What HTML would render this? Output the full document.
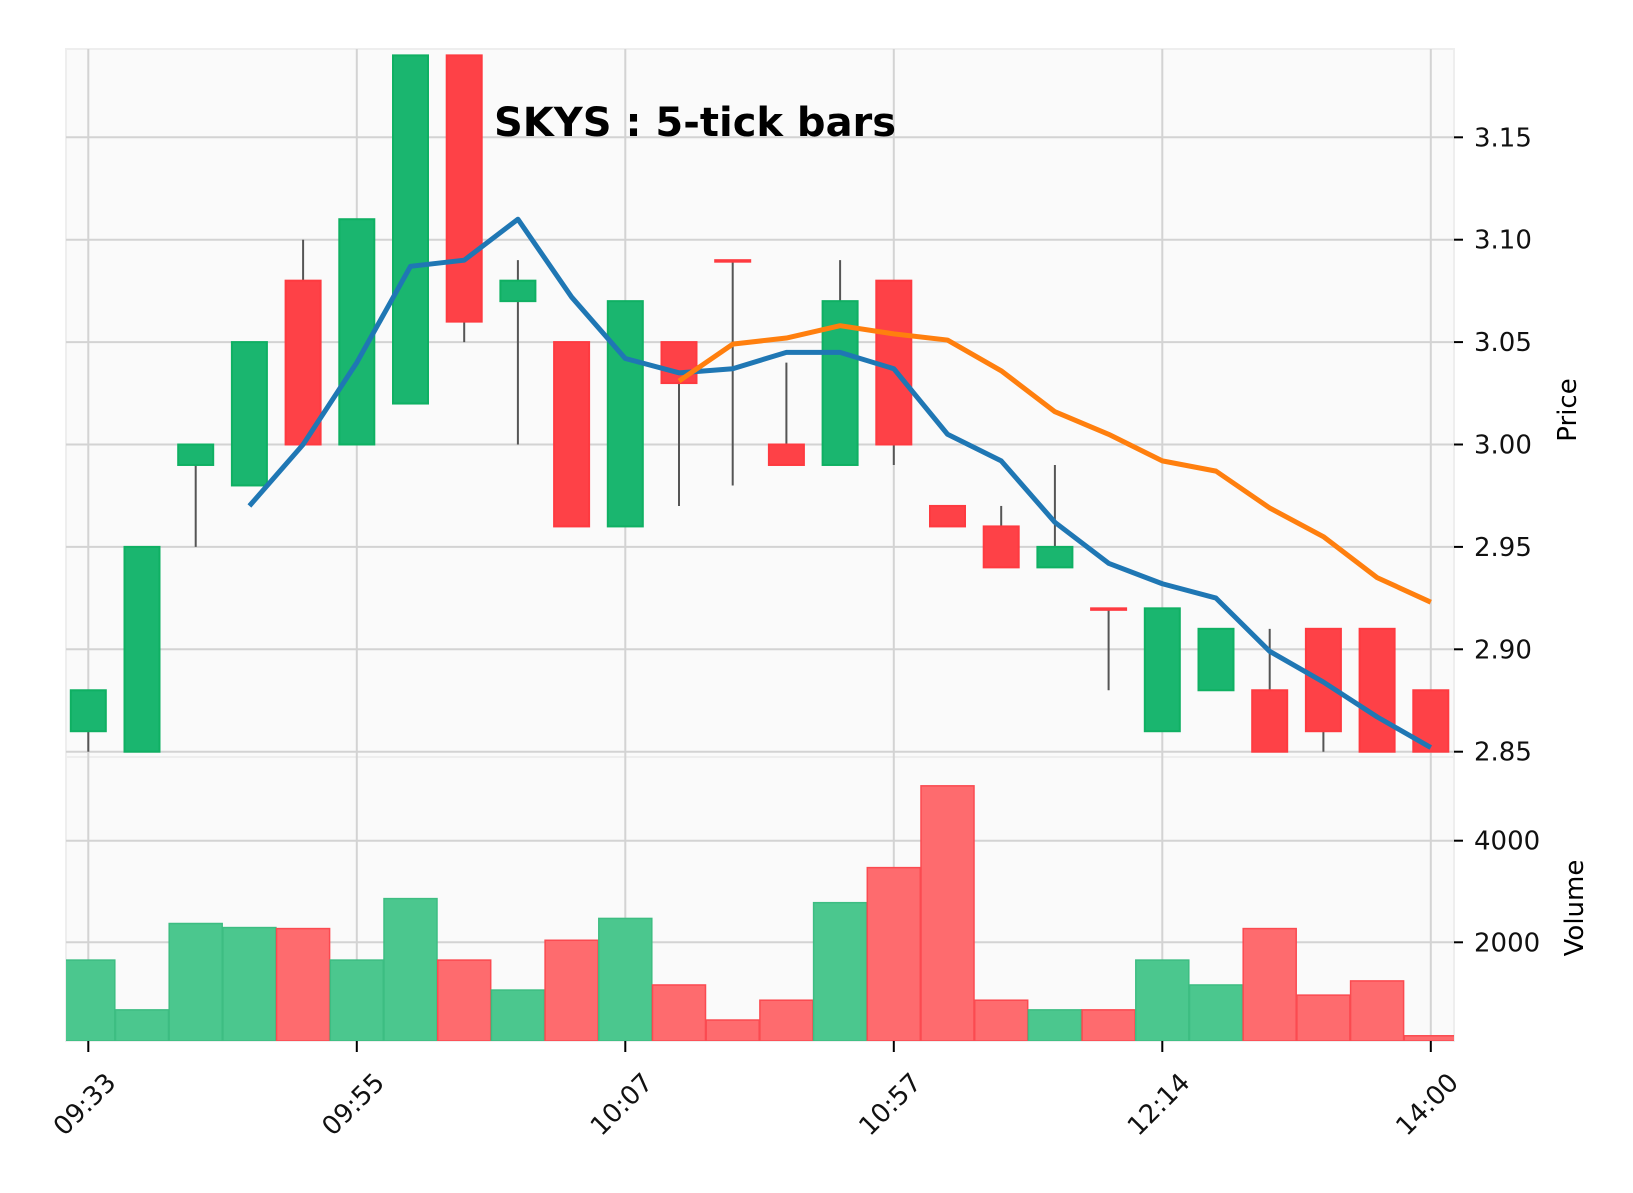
<!DOCTYPE html>
<html><head><meta charset="utf-8"><style>
html,body{margin:0;padding:0;background:#fff;}
svg text{font-family:"DejaVu Sans","Liberation Sans",sans-serif;}
</style></head><body>
<svg id="chart" width="1633" height="1188" xmlns="http://www.w3.org/2000/svg">
<defs>
<clipPath id="cp"><rect x="66" y="49" width="1388" height="708"/></clipPath>
<clipPath id="cv"><rect x="66" y="757" width="1388" height="284"/></clipPath>
</defs>
<rect x="66" y="49" width="1388" height="708" fill="#fafafa" stroke="#eeeeee" stroke-width="2"/>
<rect x="66" y="757" width="1388" height="284" fill="#fafafa" stroke="#eeeeee" stroke-width="2"/>
<g id="grid"></g>
<g id="vol" clip-path="url(#cv)"></g>
<g id="candles" clip-path="url(#cp)"></g>
<g id="mas" clip-path="url(#cp)"></g>
<g id="axes"></g>
<text x="494" y="136" font-size="40" font-weight="bold" fill="#000">SKYS : 5-tick bars</text>
<text transform="translate(1576,410) rotate(-90)" text-anchor="middle" font-size="26">Price</text>
<text transform="translate(1583,908) rotate(-90)" text-anchor="middle" font-size="26">Volume</text>
</svg>
<script>
const opens  =[2.86,2.85,2.99,2.98,3.08,3.00,3.02,3.19,3.07,3.05,2.96,3.05,3.09,3.00,2.99,3.08,2.97,2.96,2.94,2.92,2.86,2.88,2.88,2.91,2.91,2.88];
const highs  =[2.88,2.95,3.00,3.05,3.10,3.11,3.19,3.19,3.09,3.05,3.07,3.05,3.09,3.04,3.09,3.08,2.97,2.97,2.99,2.92,2.92,2.91,2.91,2.91,2.91,2.88];
const lows   =[2.85,2.85,2.95,2.98,3.00,3.00,3.02,3.05,3.00,2.96,2.96,2.97,2.98,2.99,2.99,2.99,2.96,2.94,2.94,2.88,2.86,2.88,2.85,2.85,2.85,2.85];
const closes =[2.88,2.95,3.00,3.05,3.00,3.11,3.19,3.06,3.08,2.96,3.07,3.03,3.09,2.99,3.07,3.00,2.96,2.94,2.95,2.92,2.92,2.91,2.85,2.86,2.85,2.85];
const upFlags=[1,1,1,1,0,1,1,0,1,0,1,0,0,0,1,0,0,0,1,0,1,1,0,0,0,0];
const volumes=[1650,670,2370,2290,2270,1650,2860,1650,1060,2040,2470,1160,470,860,2780,3470,5080,860,670,670,1650,1160,2270,960,1240,160];
const ma1=[null,null,null,2.97,3.00,3.04,3.087,3.09,3.11,3.072,3.042,3.035,3.037,3.045,3.045,3.037,3.005,2.992,2.962,2.942,2.932,2.925,2.899,2.884,2.867,2.852];
const ma2=[null,null,null,null,null,null,null,null,null,null,null,3.031,3.049,3.052,3.058,3.054,3.051,3.036,3.016,3.005,2.992,2.987,2.969,2.955,2.935,2.923];
const priceTicks=[2.85,2.90,2.95,3.00,3.05,3.10,3.15];
const volTicks=[2000,4000];
const xTickIdx=[0,5,10,15,20,25];
const xTickLabels=["09:33","09:55","10:07","10:57","12:14","14:00"];

const NS="http://www.w3.org/2000/svg";
const X=i=>88.3+i*53.7;
const Y=p=>137.3+(3.15-p)*2048;
const V=v=>1043.9-v*0.0508;
function mk(parent,tag,attrs){const e=document.createElementNS(NS,tag);for(const k in attrs)e.setAttribute(k,attrs[k]);document.getElementById(parent).appendChild(e);return e;}

xTickIdx.forEach((i,k)=>{
  const g1=mk('grid','line',{x1:X(i),x2:X(i),y1:49,y2:1041,stroke:'#d3d3d3','stroke-width':2});
  
  
  const t=mk('axes','line',{x1:X(i),x2:X(i),y1:1041,y2:1052,stroke:'#000','stroke-width':2});
  
  
  const lb=mk('axes','text',{transform:`translate(${X(i)+29},${1084}) rotate(-45)`,'text-anchor':'end','font-size':26,fill:'#111'});
  lb.textContent=xTickLabels[k];
  
  
});
priceTicks.forEach(p=>{
  const g=mk('grid','line',{x1:66,x2:1454,y1:Y(p),y2:Y(p),stroke:'#d3d3d3','stroke-width':2});
  
  
  const t=mk('axes','line',{x1:1454,x2:1463,y1:Y(p),y2:Y(p),stroke:'#000','stroke-width':2});
  
  
  const lb=mk('axes','text',{x:1474,y:Y(p)+9,'font-size':26,fill:'#111'});
  lb.textContent=p.toFixed(2);
  
  
});
volTicks.forEach(v=>{
  const g=mk('grid','line',{x1:66,x2:1454,y1:V(v),y2:V(v),stroke:'#d3d3d3','stroke-width':2});
  
  
  const t=mk('axes','line',{x1:1454,x2:1463,y1:V(v),y2:V(v),stroke:'#000','stroke-width':2});
  
  
  const lb=mk('axes','text',{x:1474,y:V(v)+9,'font-size':26,fill:'#111'});
  lb.textContent=String(v);
  
  
});
volumes.forEach((v,i)=>{
  const up=upFlags[i];
  const r=mk('vol','rect',{x:X(i)-26.5,y:V(v),width:53,height:Math.max(0,1041-V(v)),fill:up?'#4bc78e':'#fe6b6e',stroke:up?'#3dbd82':'#fb4a50','stroke-width':1.5});
  
  
});
opens.forEach((o,i)=>{
  const c=closes[i],up=upFlags[i];
  const w=mk('candles','line',{x1:X(i),x2:X(i),y1:Y(highs[i]),y2:Y(lows[i]),stroke:'#555','stroke-width':2});
  
  
  const top=Math.max(o,c),bot=Math.min(o,c);
  const h=Math.max(Y(bot)-Y(top),1.5);
  const b=mk('candles','rect',{x:X(i)-17.5,y:Y(top),width:35,height:h,fill:up?'#1ab66f':'#fe4147',stroke:up?'#0fb063':'#fe3a40','stroke-width':2});
  
  
});
function line(arr,color,name){
  const pts=[];arr.forEach((v,i)=>{if(v!==null)pts.push(X(i)+','+Y(v));});
  const p=mk('mas','polyline',{points:pts.join(' '),fill:'none',stroke:color,'stroke-width':5,'stroke-linejoin':'round'});
  
  
}
line(ma1,'#1f77b4','moving-average-short');
line(ma2,'#ff7f0e','moving-average-long');
</script>
</body></html>
